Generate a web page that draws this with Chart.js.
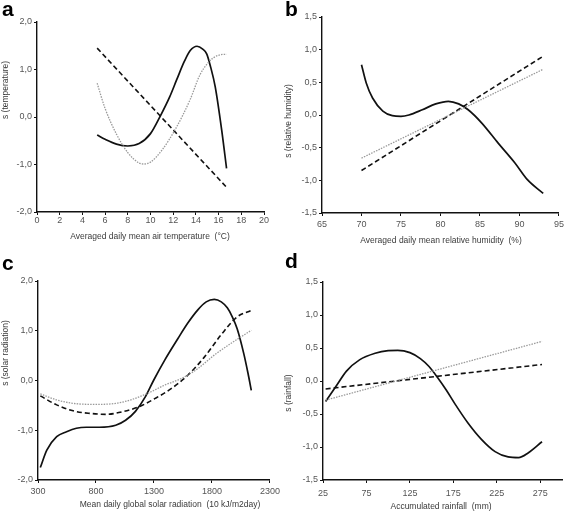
<!DOCTYPE html>
<html><head><meta charset="utf-8">
<script src="https://cdn.jsdelivr.net/npm/chart.js@4.4.0/dist/chart.umd.min.js"></script>
<style>
body{margin:0;background:#fff;width:567px;height:511px;overflow:hidden;position:relative;font-family:"Liberation Sans",Arial,sans-serif}
.p{position:absolute}
.lbl{position:absolute;font-weight:bold;font-size:21px;color:#000;line-height:21px}
</style></head><body>
<canvas id="ca" class="p" style="left:0;top:0" width="283" height="250"></canvas>
<canvas id="cb" class="p" style="left:283px;top:0" width="284" height="250"></canvas>
<canvas id="cc" class="p" style="left:0;top:250px" width="283" height="261"></canvas>
<canvas id="cd" class="p" style="left:283px;top:250px" width="284" height="261"></canvas>
<div class="lbl" style="left:2px;top:-2px">a</div>
<div class="lbl" style="left:285px;top:-2px">b</div>
<div class="lbl" style="left:2px;top:252px">c</div>
<div class="lbl" style="left:285px;top:250px">d</div>
<script>
// ---- Panel a: temperature ----
const tempSolidX  = [5.3, 6.0, 7.0, 8.0, 9.0, 10.0, 10.84, 11.7, 12.3, 13.0, 13.5, 14.1, 14.6, 14.95, 15.3, 15.7, 16.27, 16.7];
const tempSolidY  = [-0.38, -0.47, -0.57, -0.61, -0.56, -0.35, 0.01, 0.43, 0.78, 1.18, 1.40, 1.49, 1.43, 1.33, 1.05, 0.64, -0.27, -1.08];
const tempDottedX = [5.3, 6.0, 7.0, 8.0, 9.0, 9.4, 10.0, 11.0, 12.16, 13.48, 14.36, 15.0, 15.5, 16.0, 16.56, 16.7];
const tempDottedY = [0.71, 0.18, -0.36, -0.75, -0.97, -0.99, -0.95, -0.70, -0.27, 0.36, 0.89, 1.12, 1.24, 1.30, 1.32, 1.32];
const tempDashedX = [5.3, 16.7];
const tempDashedY = [1.45, -1.48];
const tempXTicks = [0, 2, 4, 6, 8, 10, 12, 14, 16, 18, 20];
const tempYTicks = [-2, -1, 0, 1, 2];

// ---- Panel b: relative humidity ----
const humSolidX  = [70, 70.6, 71.4, 72.7, 73.9, 75.0, 76.0, 77.7, 79.4, 81.0, 82.3, 83.5, 85.2, 87.3, 89.4, 91.0, 93];
const humSolidY  = [0.77, 0.49, 0.26, 0.06, -0.01, -0.02, 0.0, 0.08, 0.17, 0.21, 0.17, 0.08, -0.12, -0.43, -0.73, -0.99, -1.2];
const humDottedX = [70, 93];
const humDottedY = [-0.66, 0.70];
const humDashedX = [70, 93];
const humDashedY = [-0.85, 0.90];
const humXTicks = [65, 70, 75, 80, 85, 90, 95];
const humYTicks = [-1.5, -1.0, -0.5, 0, 0.5, 1.0, 1.5];

// ---- Panel c: solar radiation ----
const solSolidX  = [320, 376, 461, 546, 631, 716, 829, 970, 1055, 1140, 1225, 1296, 1395, 1508, 1593, 1678, 1750, 1820, 1880, 1932, 1975, 2017, 2074, 2110, 2139];
const solSolidY  = [-1.75, -1.40, -1.13, -1.03, -0.96, -0.94, -0.94, -0.90, -0.80, -0.62, -0.33, 0.0, 0.42, 0.85, 1.16, 1.42, 1.58, 1.63, 1.58, 1.46, 1.28, 1.04, 0.54, 0.15, -0.20];
const solDottedX = [320, 461, 603, 800, 970, 1112, 1253, 1395, 1536, 1678, 1819, 1960, 2139];
const solDottedY = [-0.27, -0.39, -0.46, -0.48, -0.46, -0.38, -0.25, -0.09, 0.04, 0.24, 0.51, 0.74, 1.01];
const solDashedX = [320, 461, 603, 744, 886, 1027, 1168, 1310, 1451, 1593, 1734, 1876, 2017, 2139];
const solDashedY = [-0.31, -0.49, -0.61, -0.66, -0.68, -0.63, -0.53, -0.36, -0.16, 0.11, 0.47, 0.91, 1.28, 1.41];
const solXTicks = [300, 800, 1300, 1800, 2300];
const solYTicks = [-2, -1, 0, 1, 2];

// ---- Panel d: rainfall ----
const rainSolidX  = [28, 40, 52, 67, 85, 100, 111, 125, 137, 147, 157, 167, 177, 192, 207, 223, 238, 250, 261, 277];
const rainSolidY  = [-0.31, -0.08, 0.15, 0.32, 0.42, 0.46, 0.465, 0.43, 0.34, 0.22, 0.05, -0.14, -0.35, -0.64, -0.88, -1.07, -1.15, -1.16, -1.09, -0.92];
const rainDottedX = [28, 277];
const rainDottedY = [-0.29, 0.60];
const rainDashedX = [28, 277];
const rainDashedY = [-0.12, 0.25];
const rainXTicks = [25, 75, 125, 175, 225, 275];
const rainYTicks = [-1.5, -1.0, -0.5, 0, 0.5, 1.0, 1.5];

const pts = (xs, ys) => xs.map((x, i) => ({x: x, y: ys[i]}));
const FONT = '"Liberation Sans", Arial, sans-serif';

const textPlugin = {
  id: 'txt',
  afterDraw(chart, args, o) {
    const ctx = chart.ctx;
    ctx.save();
    ctx.fillStyle = '#3a3a3a';
    ctx.font = '8.5px ' + FONT;
    ctx.textAlign = 'center';
    ctx.textBaseline = 'middle';
    ctx.fillText(o.xTitle, o.xt[0], o.xt[1]);
    ctx.translate(o.yt[0], o.yt[1]);
    ctx.rotate(-Math.PI / 2);
    ctx.fillText(o.yTitle, 0, 0);
    ctx.restore();
  }
};

function makeChart(id, s) {
  const ds = [
    {data: pts(s.dotX, s.dotY), borderColor: '#9a9a9a', borderWidth: 1.3, borderDash: [1.5, 1.2]},
    {data: pts(s.dashX, s.dashY), borderColor: '#111', borderWidth: 1.6, borderDash: [5, 3]},
    {data: pts(s.solX, s.solY), borderColor: '#111', borderWidth: 1.7}
  ];
  ds.forEach(d => { d.pointRadius = 0; d.cubicInterpolationMode = 'monotone'; d.fill = false; });
  const fmtY = v => v.toFixed(1).replace('.', ',');
  new Chart(document.getElementById(id), {
    type: 'line',
    data: {datasets: ds},
    plugins: [textPlugin],
    options: {
      responsive: false, animation: false, devicePixelRatio: 1,
      layout: {padding: {left: 0, top: s.top, right: s.right, bottom: 0}},
      plugins: {legend: {display: false}, tooltip: {enabled: false},
        txt: {xTitle: s.xTitle, yTitle: s.yTitle, xt: s.xt, yt: s.yt}},
      scales: {
        x: {
          type: 'linear', min: s.xTicks[0], max: s.xMax,
          afterBuildTicks: sc => { sc.ticks = s.xTicks.map(v => ({value: v})); },
          afterFit: sc => { sc.height = s.xH; },
          border: {display: true, color: '#111', width: 1.4},
          grid: {display: true, drawOnChartArea: false, drawTicks: true, tickLength: 3, color: '#111', lineWidth: 1},
          ticks: {color: '#555', font: {size: 9, family: FONT}, padding: s.xPad, maxRotation: 0, autoSkip: false,
                  callback: v => String(v)}
        },
        y: {
          type: 'linear', min: s.yTicks[0], max: s.yTicks[s.yTicks.length - 1],
          afterBuildTicks: sc => { sc.ticks = s.yTicks.map(v => ({value: v})); },
          afterFit: sc => { sc.width = s.left; },
          border: {display: true, color: '#111', width: 1.4},
          grid: {display: true, drawOnChartArea: false, drawTicks: true, tickLength: 3, color: '#111', lineWidth: 1},
          ticks: {color: '#555', font: {size: 9, family: FONT}, padding: 2, autoSkip: false, callback: fmtY}
        }
      }
    }
  });
}

makeChart('ca', {solX: tempSolidX, solY: tempSolidY, dotX: tempDottedX, dotY: tempDottedY, dashX: tempDashedX, dashY: tempDashedY,
  xTicks: tempXTicks, xMax: 20, yTicks: tempYTicks, left: 37, top: 22, right: 19, xH: 38, xPad: 0,
  xTitle: 'Averaged daily mean air temperature  (°C)', yTitle: 's (temperature)', xt: [150, 237], yt: [6, 90]});
makeChart('cb', {solX: humSolidX, solY: humSolidY, dotX: humDottedX, dotY: humDottedY, dashX: humDashedX, dashY: humDashedY,
  xTicks: humXTicks, xMax: 95, yTicks: humYTicks, left: 39, top: 17, right: 6, xH: 37, xPad: 3,
  xTitle: 'Averaged daily mean relative humidity  (%)', yTitle: 's (relative humidity)', xt: [158, 241], yt: [6, 121]});
makeChart('cc', {solX: solSolidX, solY: solSolidY, dotX: solDottedX, dotY: solDottedY, dashX: solDashedX, dashY: solDashedY,
  xTicks: solXTicks, xMax: 2300, yTicks: solYTicks, left: 38, top: 31, right: 10, xH: 31, xPad: 3,
  xTitle: 'Mean daily global solar radiation  (10 kJ/m2day)', yTitle: 's (solar radiation)', xt: [170, 255], yt: [6, 103]});
makeChart('cd', {solX: rainSolidX, solY: rainSolidY, dotX: rainDottedX, dotY: rainDottedY, dashX: rainDashedX, dashY: rainDashedY,
  xTicks: rainXTicks, xMax: 300, yTicks: rainYTicks, left: 40, top: 32, right: 5, xH: 31, xPad: 5,
  xTitle: 'Accumulated rainfall  (mm)', yTitle: 's (rainfall)', xt: [158, 257], yt: [6, 143]});
</script>
</body></html>
